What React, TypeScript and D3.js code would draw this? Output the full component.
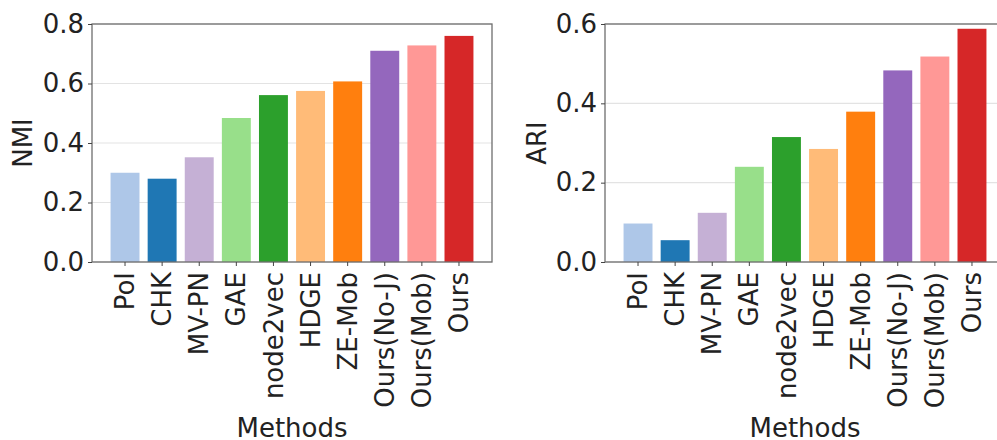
import React, { useRef, useEffect } from 'react';
import * as d3 from 'd3';

const methods = [
  'PoI',
  'CHK',
  'MV-PN',
  'GAE',
  'node2vec',
  'HDGE',
  'ZE-Mob',
  'Ours(No-J)',
  'Ours(Mob)',
  'Ours',
];
const nmiValues = [0.3, 0.28, 0.352, 0.484, 0.561, 0.575, 0.607, 0.71, 0.728, 0.76];
const ariValues = [0.097, 0.055, 0.124, 0.24, 0.315, 0.285, 0.379, 0.483, 0.518, 0.588];
const barColors = [
  '#aec7e8',
  '#1f77b4',
  '#c5b0d5',
  '#98df8a',
  '#2ca02c',
  '#ffbb78',
  '#ff7f0e',
  '#9467bd',
  '#ff9896',
  '#d62728',
];
const nmiTicks = [0, 0.2, 0.4, 0.6, 0.8];
const ariTicks = [0, 0.2, 0.4, 0.6];

const W = 997;
const H = 440;
const FONT = 'DejaVu Sans, sans-serif';
const FS = 26;

type Panel = {
  left: number;
  values: number[];
  ticks: number[];
  yMax: number;
  yLabel: string;
  yLabelX: number;
};

const panels: Panel[] = [
  { left: 92, values: nmiValues, ticks: nmiTicks, yMax: 0.8, yLabel: 'NMI', yLabelX: 23 },
  { left: 605, values: ariValues, ticks: ariTicks, yMax: 0.6, yLabel: 'ARI', yLabelX: 537 },
];

const App: React.FC = () => {
  const ref = useRef<SVGSVGElement | null>(null);

  useEffect(() => {
    if (!ref.current) return;
    const svg = d3.select(ref.current);
    svg.selectAll('*').remove();

    svg.append('rect').attr('width', W).attr('height', H).attr('fill', '#fff');

    const top = 24;
    const bottom = 262;
    const plotW = 400;

    panels.forEach((p) => {
      const g = svg.append('g');
      const x = d3
        .scaleBand<string>()
        .domain(methods)
        .range([p.left, p.left + plotW])
        .paddingInner(0.22)
        .paddingOuter(0.5);
      const y = d3.scaleLinear().domain([0, p.yMax]).range([bottom, top]);

      // grid
      g.selectAll('line.grid')
        .data(p.ticks)
        .join('line')
        .attr('class', 'grid')
        .attr('x1', p.left)
        .attr('x2', p.left + plotW)
        .attr('y1', (d) => y(d))
        .attr('y2', (d) => y(d))
        .attr('stroke', '#e3e3e3')
        .attr('stroke-width', 1.2);

      // bars
      g.selectAll('rect.bar')
        .data(p.values)
        .join('rect')
        .attr('class', 'bar')
        .attr('x', (_, i) => x(methods[i])!)
        .attr('width', x.bandwidth())
        .attr('y', (d) => y(d))
        .attr('height', (d) => bottom - y(d))
        .attr('fill', (_, i) => barColors[i]);

      // frame
      g.append('rect')
        .attr('x', p.left)
        .attr('y', top)
        .attr('width', plotW)
        .attr('height', bottom - top)
        .attr('fill', 'none')
        .attr('stroke', '#6e6e6e')
        .attr('stroke-width', 1.3);

      // y axis
      const yAxis = g
        .append('g')
        .attr('transform', `translate(${p.left},0)`)
        .call(d3.axisLeft(y).tickValues(p.ticks).tickFormat(d3.format('.1f')).tickSize(4).tickPadding(4));
      yAxis.select('.domain').remove();
      yAxis.selectAll('line').attr('stroke', '#444');
      yAxis
        .selectAll('text')
        .attr('font-family', FONT)
        .attr('font-size', FS)
        .attr('fill', '#222');

      // x axis
      const xAxis = g
        .append('g')
        .attr('transform', `translate(0,${bottom})`)
        .call(d3.axisBottom(x).tickSize(4).tickPadding(6));
      xAxis.select('.domain').remove();
      xAxis.selectAll('line').attr('stroke', '#444');
      xAxis
        .selectAll('text')
        .attr('font-family', FONT)
        .attr('font-size', FS)
        .attr('fill', '#222')
        .attr('text-anchor', 'end')
        .attr('transform', 'rotate(-90)')
        .attr('x', -10)
        .attr('y', 0)
        .attr('dy', '0.35em');

      // labels
      g.append('text')
        .attr('transform', `translate(${p.yLabelX},${(top + bottom) / 2}) rotate(-90)`)
        .attr('text-anchor', 'middle')
        .attr('dy', '0.35em')
        .attr('font-family', FONT)
        .attr('font-size', FS)
        .attr('fill', '#222')
        .text(p.yLabel);

      g.append('text')
        .attr('x', p.left + plotW / 2)
        .attr('y', 437)
        .attr('text-anchor', 'middle')
        .attr('font-family', FONT)
        .attr('font-size', FS)
        .attr('fill', '#222')
        .text('Methods');
    });
  }, []);

  return (
    <svg
      ref={ref}
      width={W}
      height={H}
      style={{ position: 'absolute', left: 0, top: 0, display: 'block' }}
    />
  );
};

export default App;
